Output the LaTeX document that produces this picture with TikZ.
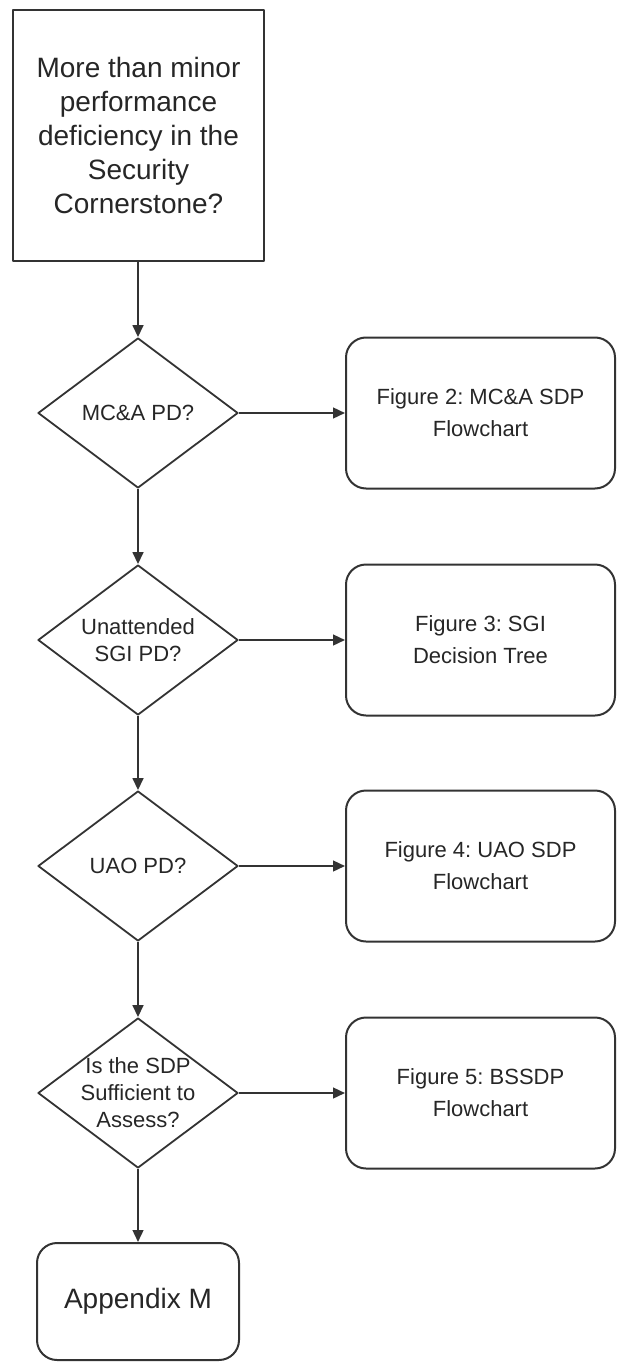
\documentclass[tikz,border=0pt]{standalone}
\usepackage{fontspec}
\setmainfont{Liberation Sans}
\usepackage{tikz}
\usetikzlibrary{arrows.meta,shapes.geometric}
\frenchspacing
\definecolor{ink}{HTML}{333333}
\definecolor{txt}{HTML}{262626}
\tikzset{
  every picture/.style={line join=round, >={Triangle[length=6pt,width=5.4pt]}},
  flow/.style={draw=ink, line width=1pt, ->},
  startbox/.style={draw=ink, line width=1pt, minimum width=125.5pt, minimum height=125.5pt,
    inner sep=0pt, align=center, text=txt, font=\fontsize{14}{17}\selectfont},
  decision/.style={draw=ink, line width=0.9pt, diamond, minimum width=100pt, minimum height=75pt, inner sep=0pt},
  dtext/.style={align=center, inner sep=0pt, text=txt, font=\fontsize{11}{13.5}\selectfont},
  figbox/.style={draw=ink, line width=1pt, rounded corners=10pt, minimum width=134.5pt, minimum height=75.5pt,
    align=center, text=txt, font=\fontsize{11}{16}\selectfont},
  endbox/.style={draw=ink, line width=1pt, rounded corners=10pt, minimum width=101pt, minimum height=58.5pt,
    align=center, text=txt, font=\fontsize{14}{17}\selectfont},
}

\begin{document}
\begin{tikzpicture}[x=0.5pt,y=-0.5pt]
\useasboundingbox (0,0) rectangle (616,1364);
\node[startbox] (start) at (138.5,135.5)
  {More than minor\\performance\\deficiency in the\\Security\\Cornerstone?};
% decisions and the figures they point to
\foreach \i/\y/\q/\f in {1/413/{MC\&A PD?}/{Figure 2: MC\&A SDP\\Flowchart},
                         2/640/{Unattended\\SGI PD?}/{Figure 3: SGI\\Decision Tree},
                         3/866/{UAO PD?}/{Figure 4: UAO SDP\\Flowchart},
                         4/1093/{Is the SDP\\Sufficient to\\Assess?}/{Figure 5: BSSDP\\Flowchart}}{
  \node[decision] (d\i) at (138,\y) {};
  \node[dtext] (q\i) at (d\i) {\q};
  \node[figbox] (f\i) at (480.5,\y) {\f};
  \draw[flow] (d\i.east) -- (f\i.west);
}
\node[endbox] (app) at (138,1301.5) {Appendix M};
% down the left column
\draw[flow] (start.south -| d1) -- (d1.north);
\foreach \i/\j in {1/2,2/3,3/4}{\draw[flow] (d\i.south) -- (d\j.north);}
\draw[flow] (d4.south) -- (app.north);
\end{tikzpicture}
\end{document}
